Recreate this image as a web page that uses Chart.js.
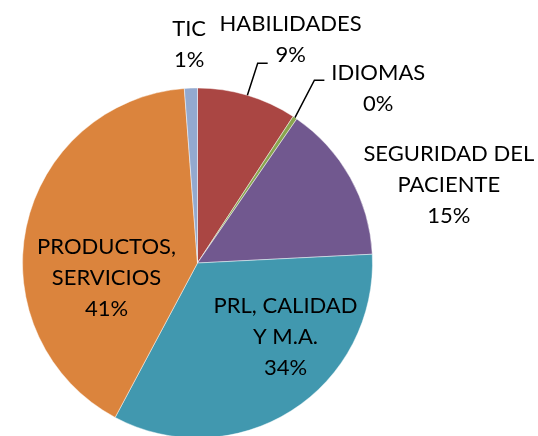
<!DOCTYPE html>
<html>
<head>
<meta charset="utf-8">
<script src="https://cdn.jsdelivr.net/npm/chart.js@4/dist/chart.umd.min.js"></script>
<style>
  html, body { margin: 0; padding: 0; background: #ffffff; overflow: hidden; width: 538px; height: 436px; }
  canvas { display: block; }
</style>
</head>
<body>
<canvas id="c" width="538" height="480" style="width:538px;height:480px"></canvas>
<script>
// ---- data ----
const categories = ["HABILIDADES", "IDIOMAS", "SEGURIDAD DEL PACIENTE", "PRL, CALIDAD Y M.A.", "PRODUCTOS, SERVICIOS", "TIC"];
const values = [9.2, 0.4, 14.6, 33.6, 41.0, 1.2];
const labelLines = [["HABILIDADES"], ["IDIOMAS"], ["SEGURIDAD DEL", "PACIENTE"], ["PRL, CALIDAD", "Y M.A."], ["PRODUCTOS,", "SERVICIOS"], ["TIC"]];
const colors = ["#AA4643", "#89A54E", "#71588F", "#4198AF", "#DB843D", "#93A9CF"];

// ---- label layout (in units of radius from the pie centre) ----
const labelPos = [
  { fx: 0.532, fy: -1.278, leader: [[0.344, -1.141], [0.401, -1.141]] },
  { fx: 1.033, fy: -0.997, leader: [[0.668, -1.045], [0.725, -1.045]] },
  { fx: 1.436, fy: -0.447 },
  { fx: 0.503, fy: 0.425 },
  { fx: -0.520, fy: 0.084 },
  { fx: -0.048, fy: -1.250 }
];
const FONT = "22px Lato, 'Open Sans', sans-serif";
const LINE_H = 31;

const labelPlugin = {
  id: 'pieLabels',
  afterDatasetsDraw(chart) {
    const ctx = chart.ctx;
    const meta = chart.getDatasetMeta(0);
    const total = values.reduce((a, b) => a + b, 0);
    ctx.save();
    ctx.font = FONT;
    ctx.fillStyle = "#000000";
    ctx.textAlign = "center";
    ctx.textBaseline = "middle";
    meta.data.forEach((arc, i) => {
      const cx = arc.x, cy = arc.y, R = arc.outerRadius;
      const p = labelPos[i];
      const pct = Math.round(values[i] / total * 100) + "%";
      const lines = labelLines[i].concat([pct]);
      const bx = cx + p.fx * R, by = cy + p.fy * R;
      const y0 = by - (lines.length - 1) * LINE_H / 2;
      lines.forEach((t, k) => ctx.fillText(t, bx, y0 + k * LINE_H));
      if (p.leader) {
        const mid = (arc.startAngle + arc.endAngle) / 2;
        ctx.beginPath();
        ctx.strokeStyle = "#000000";
        ctx.lineWidth = 1.5;
        ctx.moveTo(cx + Math.cos(mid) * R, cy + Math.sin(mid) * R);
        p.leader.forEach(q => ctx.lineTo(cx + q[0] * R, cy + q[1] * R));
        ctx.stroke();
      }
    });
    ctx.restore();
  }
};

new Chart(document.getElementById('c'), {
  type: 'pie',
  data: {
    labels: categories,
    datasets: [{
      data: values,
      backgroundColor: colors,
      borderColor: 'rgba(255,255,255,0.45)',
      borderWidth: 1
    }]
  },
  options: {
    responsive: false,
    animation: false,
    layout: { padding: { left: 22, top: 87, right: 165, bottom: 41 } },
    plugins: {
      legend: { display: false },
      tooltip: { enabled: false },
      title: { display: false }
    }
  },
  plugins: [labelPlugin]
});
</script>
</body>
</html>
